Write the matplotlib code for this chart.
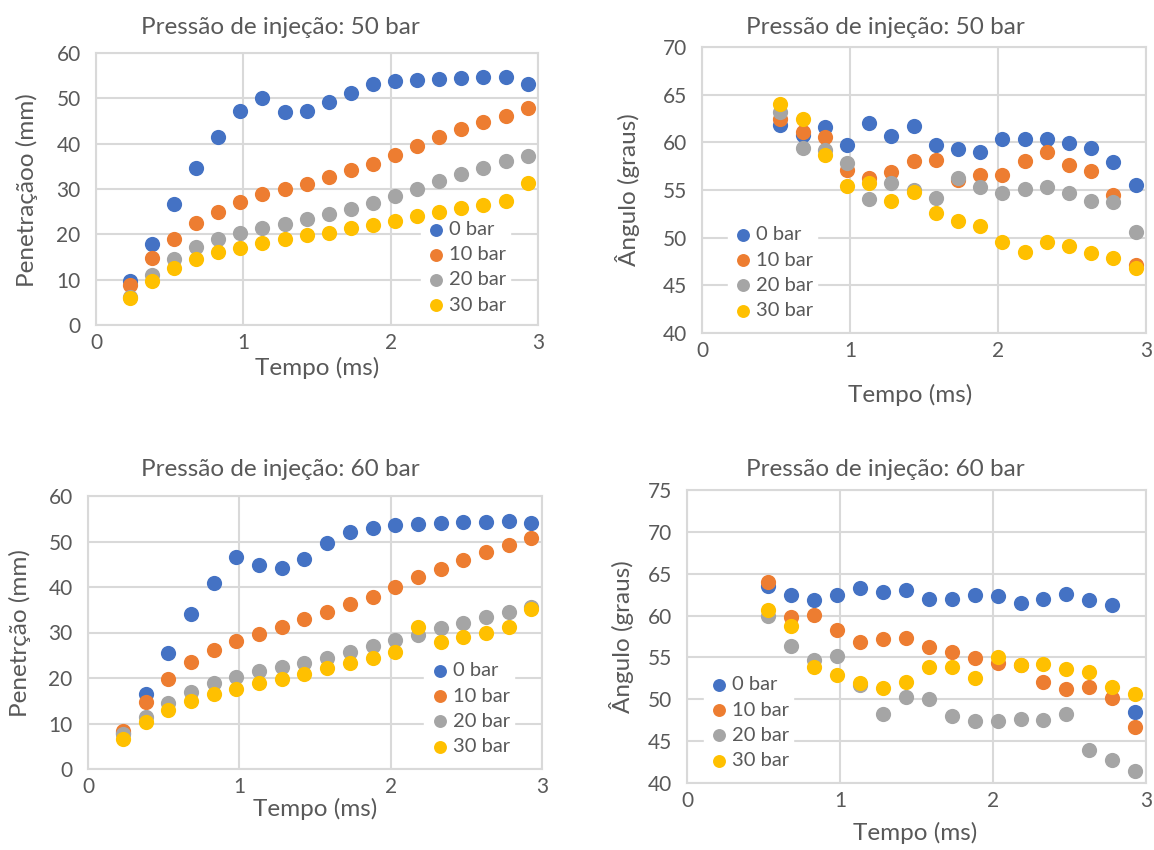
import matplotlib
matplotlib.use("Agg")
import matplotlib.pyplot as plt

# Tempo (ms) - 19 instantes
tempo = [0.23, 0.38, 0.53, 0.68, 0.83, 0.98, 1.13, 1.28, 1.43, 1.58,
         1.73, 1.88, 2.03, 2.18, 2.33, 2.48, 2.63, 2.78, 2.93]
tempo_ang = tempo[2:]  # angulos comecam em 0.53 ms

series = ["0 bar", "10 bar", "20 bar", "30 bar"]
cores = ["#4472C4", "#ED7D31", "#A5A5A5", "#FFC000"]

# Penetracao, 50 bar
pen50_0 = [9.8, 17.9, 26.6, 34.7, 41.4, 47.1, 50.0, 46.9, 47.1, 49.1,
           51.2, 53.1, 53.9, 54.0, 54.3, 54.4, 54.6, 54.8, 53.2]
pen50_10 = [8.8, 14.7, 19.0, 22.4, 25.0, 27.1, 28.8, 29.9, 31.1, 32.7,
            34.2, 35.5, 37.4, 39.4, 41.4, 43.2, 44.7, 46.2, 47.8]
pen50_20 = [6.2, 11.0, 14.6, 17.1, 19.0, 20.2, 21.3, 22.3, 23.3, 24.5,
            25.5, 27.0, 28.5, 30.1, 31.7, 33.2, 34.7, 36.1, 37.3]
pen50_30 = [5.9, 9.8, 12.6, 14.5, 16.0, 16.9, 18.0, 18.9, 19.8, 20.4,
            21.3, 22.1, 23.0, 24.1, 24.9, 25.9, 26.5, 27.3, 31.3]

# Angulo, 50 bar
ang50_0 = [61.8, 60.8, 61.6, 59.7, 62.0, 60.7, 61.7, 59.7, 59.3, 59.0,
           60.4, 60.4, 60.3, 59.9, 59.4, 57.9, 55.5]
ang50_10 = [62.5, 61.1, 60.6, 57.1, 56.3, 56.9, 58.0, 58.1, 56.1, 56.6,
            56.6, 58.0, 59.0, 57.6, 57.0, 54.5, 47.1]
ang50_20 = [63.2, 59.4, 59.2, 57.8, 54.1, 55.7, 55.0, 54.2, 56.3, 55.3,
            54.7, 55.1, 55.3, 54.7, 53.8, 53.7, 50.6]
ang50_30 = [64.0, 62.5, 58.7, 55.4, 55.7, 53.8, 54.8, 52.6, 51.8, 51.2,
            49.5, 48.5, 49.5, 49.1, 48.4, 47.9, 46.8]

# Penetracao, 60 bar
pen60_0 = [8.0, 16.4, 25.6, 34.1, 40.9, 46.5, 44.8, 44.2, 46.2, 49.6,
           52.1, 53.0, 53.6, 53.8, 54.0, 54.2, 54.3, 54.4, 54.1]
pen60_10 = [8.4, 14.7, 19.8, 23.6, 26.2, 28.1, 29.7, 31.1, 32.9, 34.5,
            36.3, 37.9, 40.1, 42.1, 44.0, 45.9, 47.8, 49.2, 50.8]
pen60_20 = [7.7, 11.5, 14.4, 17.0, 18.8, 20.2, 21.5, 22.5, 23.2, 24.5,
            25.8, 27.1, 28.4, 29.5, 30.9, 32.0, 33.3, 34.4, 35.7]
pen60_30 = [6.7, 10.4, 13.0, 14.9, 16.4, 17.6, 18.8, 19.8, 20.8, 22.1,
            23.4, 24.5, 25.8, 31.3, 28.0, 29.1, 30.0, 31.1, 35.1]

# Angulo, 60 bar
ang60_0 = [63.5, 62.4, 61.9, 62.5, 63.3, 62.8, 63.0, 62.0, 62.0, 62.4,
           62.3, 61.5, 62.0, 62.6, 61.9, 61.3, 48.5]
ang60_10 = [64.0, 59.8, 60.1, 58.3, 56.8, 57.2, 57.3, 56.2, 55.6, 54.9,
            54.3, 54.1, 52.1, 51.2, 51.5, 50.1, 46.7]
ang60_20 = [60.0, 56.4, 54.7, 55.2, 51.7, 48.3, 50.3, 50.0, 48.0, 47.4,
            47.4, 47.6, 47.5, 48.2, 43.9, 42.7, 41.4]
ang60_30 = [60.7, 58.8, 53.9, 52.9, 51.9, 51.4, 52.1, 53.8, 53.8, 52.6,
            55.0, 54.1, 54.2, 53.6, 53.3, 51.5, 50.6]

plt.rcParams['font.family'] = ['Lato', 'DejaVu Sans']
texto = "#595959"
grade = "#D9D9D9"

W, H = 1154, 850
fig = plt.figure(figsize=(W / 100, H / 100), dpi=100)


def px_axes(left, top, right, bottom):
    return fig.add_axes([left / W, 1 - bottom / H, (right - left) / W, (bottom - top) / H])


def painel(ax, x, dados, ylim, passo, leg_loc, leg_anchor):
    for y, nome, cor in zip(dados, series, cores):
        ax.scatter(x, y, s=120, color=cor, label=nome, zorder=3, linewidths=0)
    ax.set_xlim(0, 3)
    ax.set_ylim(*ylim)
    ax.set_xticks([0, 1, 2, 3])
    ax.set_yticks(range(ylim[0], ylim[1] + 1, passo))
    ax.grid(True, color=grade, linewidth=1.5, zorder=0)
    ax.set_axisbelow(True)
    for sp in ax.spines.values():
        sp.set_color(grade)
        sp.set_linewidth(1.5)
    ax.tick_params(length=0, labelsize=15, colors=texto)
    ax.tick_params(axis="x", pad=6)
    ax.tick_params(axis="y", pad=11)
    leg = ax.legend(loc=leg_loc, bbox_to_anchor=leg_anchor, frameon=True,
                    fontsize=14.5, handletextpad=0.1, borderpad=0.2,
                    labelspacing=0.4, handlelength=1.1, markerscale=0.85,
                    fancybox=False, edgecolor="white", framealpha=1)
    for t in leg.get_texts():
        t.set_color(texto)
    leg.set_zorder(2)


ax1 = px_axes(96, 53, 538, 325)
painel(ax1, tempo, [pen50_0, pen50_10, pen50_20, pen50_30], (0, 60), 10,
       "lower right", (0.96, -0.01))
ax2 = px_axes(702, 47, 1146, 333)
painel(ax2, tempo_ang, [ang50_0, ang50_10, ang50_20, ang50_30], (40, 70), 5,
       "lower left", (0.035, 0.0))
ax3 = px_axes(88, 496, 542, 769)
painel(ax3, tempo, [pen60_0, pen60_10, pen60_20, pen60_30], (0, 60), 10,
       "lower right", (0.96, 0.0))
ax4 = px_axes(687, 490, 1146, 783)
painel(ax4, tempo_ang, [ang60_0, ang60_10, ang60_20, ang60_30], (40, 75), 5,
       "lower left", (0.015, 0.0))

def ftxt(x, y, s, **kw):
    fig.text(x / W, 1 - y / H, s, color=texto, ha="center", va="center", **kw)

ftxt(280, 27, "Pressão de injeção: 50 bar", fontsize=17.5)
ftxt(885, 27, "Pressão de injeção: 50 bar", fontsize=17.5)
ftxt(280, 469, "Pressão de injeção: 60 bar", fontsize=17.5)
ftxt(885, 469, "Pressão de injeção: 60 bar", fontsize=17.5)

ftxt(317, 368, "Tempo (ms)", fontsize=17.5)
ftxt(910, 395, "Tempo (ms)", fontsize=17.5)
ftxt(315, 809, "Tempo (ms)", fontsize=17.5)
ftxt(915, 833, "Tempo (ms)", fontsize=17.5)

ftxt(27, 190, "Penetraçãoo (mm)", fontsize=17.5, rotation=90)
ftxt(628, 190, "Ângulo (graus)", fontsize=17.5, rotation=90)
ftxt(20, 633, "Penetrção (mm)", fontsize=17.5, rotation=90)
ftxt(622, 637, "Ângulo (graus)", fontsize=17.5, rotation=90)

fig.savefig("out.png", dpi=100)
